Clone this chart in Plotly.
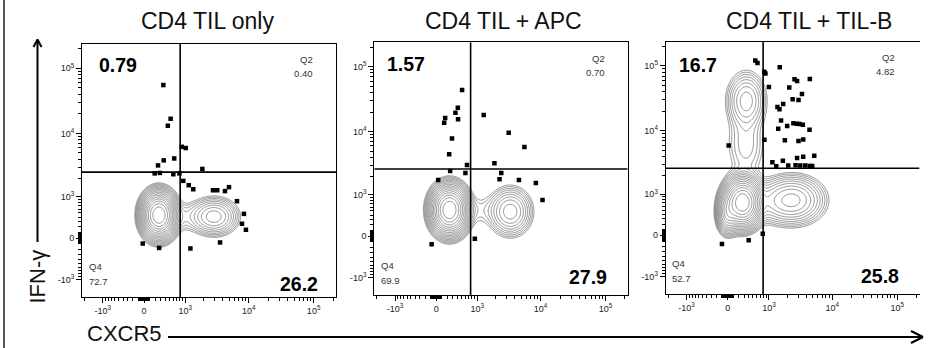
import numpy as np
import plotly.graph_objects as go

W, H = 930, 348
COF = 490.0  # biexponential (arcsinh) cofactor of the display scale


def T(v):
    """Biexponential-like display transform (in decades)."""
    return np.arcsinh(np.asarray(v, dtype=float) / COF) / np.log(10)


# ---------------- data ----------------
titles = ["CD4 TIL only", "CD4 TIL + APC", "CD4 TIL + TIL-B"]
q1_pct = ["0.79", "1.57", "16.7"]   # IFN-γ+ CXCR5-
q2_pct = ["0.40", "0.70", "4.82"]   # IFN-γ+ CXCR5+
q3_pct = ["26.2", "27.9", "25.8"]   # IFN-γ- CXCR5+
q4_pct = ["72.7", "69.9", "52.7"]   # IFN-γ- CXCR5-

gate_x = [813, 760, 791]
gate_y = [2510, 2630, 2630]

tick_vals = [-1000, 0, 1000, 10000, 100000]
tick_text = ["-10<sup>3</sup>", "0", "10<sup>3</sup>", "10<sup>4</sup>", "10<sup>5</sup>"]
minor_vals = ([-2000] + [-v for v in range(100, 1000, 100)] + [-v for v in range(10, 100, 10)]
              + list(range(10, 100, 10)) + list(range(100, 1000, 100))
              + list(range(2000, 10000, 1000)) + list(range(20000, 100000, 10000)) + [200000])

# outlier events (CXCR5, IFN-γ)
ev1_x = [362, 533, 464, 870, 1020, 253, 370, 630, 1905, 190, 290, 605, 790, 925, 1145, 1360,
         2800, 3260, 4300, 4960, 6600, 8450, 7880, 9060, 3610, 1220, 275, -22]
ev1_y = [55340, 16760, 13100, 6200, 5940, 3200, 3830, 4100, 2820, 2400, 2440, 2330, 2400, 1830,
         1560, 1340, 1290, 1290, 1250, 1450, 840, 475, 260, 147, -75, -183, -173, -94]

ev2_x = [518, 415, 363, 420, 159, 141, 290, 234, 650, 1280, 3200, 5620, 1910, 2450, 2300, 4620,
         8450, 10700, 605, 253, 35, 905, -80]
ev2_y = [43700, 23300, 19550, 15460, 16190, 13700, 7780, 4460, 3050, 18000, 9620, 5800, 3230,
         2280, 1810, 1770, 1580, 820, 2280, 2450, 1770, -42, -141]

ev3_x = [560, 620, 830, 870, 1515, 1000, 2600, 2850, 4500, 2150, 3400, 2430, 3000, 1390, 1720,
         1500, 1590, 1430, 1990, 2500, 2810, 3120, 3510, 4450, 835, 1830, 3000, 3550, 1145, 1700,
         2070, 2850, 3550, 5270, 2700, 3200, 3830, 4500, 4900, 1330, 17, -100, 400, 780]
ev3_y = [121400, 111200, 81700, 76600, 95500, 47600, 62400, 58800, 62700, 46700, 37100, 30700,
         30000, 23400, 26000, 21600, 14400, 10800, 11900, 13100, 12800, 12700, 12360, 10340, 7260,
         7150, 6940, 7340, 3260, 3430, 2900, 3800, 3960, 4130, 2920, 2900, 2900, 2850, 2850, 2830,
         5940, -155, -88, 29]

# cell populations: centre (CXCR5, IFN-γ), spread (display decades), relative peak density
pop1_cx = [270, 2900, 965]
pop1_cy = [445, 410, 409]
pop1_sx = [0.12, 0.18, 0.18]
pop1_sy = [0.16, 0.14, 0.14]
pop1_w = [1.0, 0.11, 0.015]

pop2_cx = [240, 3400, 1120]
pop2_cy = [525, 482, 518]
pop2_sx = [0.13, 0.16, 0.2]
pop2_sy = [0.17, 0.18, 0.15]
pop2_w = [1.0, 0.11, 0.011]

pop3_cx = [270, 0, 2370, 348, 338, 965]
pop3_cy = [710, 420, 780, 29250, 6000, 697]
pop3_sx = [0.13, 0.08, 0.24, 0.15, 0.17, 0.18]
pop3_sy = [0.17, 0.15, 0.18, 0.22, 0.30, 0.17]
pop3_w = [1.0, 0.2, 0.14, 0.08, 0.025, 0.02]

events = [(ev1_x, ev1_y), (ev2_x, ev2_y), (ev3_x, ev3_y)]
pops = [(pop1_cx, pop1_cy, pop1_sx, pop1_sy, pop1_w),
        (pop2_cx, pop2_cy, pop2_sx, pop2_sy, pop2_w),
        (pop3_cx, pop3_cy, pop3_sx, pop3_sy, pop3_w)]

# ---------------- layout geometry (pixels) ----------------
boxes = [(82, 336, 44, 297), (374.3, 627.7, 42.3, 295), (665.7, 919.5, 41.7, 294)]
XR = [-0.955, 2.955]
YR = [-0.905, 2.985]
N_LEVELS = 16
STEP = 0.3

FONT = "Liberation Sans, Arial, Helvetica, sans-serif"


def px(x):
    return x / W


def py(y):
    return 1 - y / H


fig = go.Figure()
gx = np.linspace(XR[0], XR[1], 360)
gy = np.linspace(YR[0], YR[1], 360)
GX, GY = np.meshgrid(gx, gy)

for i in range(3):
    sfx = "" if i == 0 else str(i + 1)
    xa, ya = "x" + sfx, "y" + sfx
    cx, cy, sx, sy, w = pops[i]
    dens = np.zeros_like(GX)
    for a, b, s1, s2, ww in zip(T(cx), T(cy), sx, sy, w):
        dens += ww * np.exp(-0.5 * (((GX - a) / s1) ** 2 + ((GY - b) / s2) ** 2))
    z = np.log(dens + 1e-30)
    zmax = z.max()
    fig.add_trace(go.Contour(
        x=gx, y=gy, z=z, xaxis=xa, yaxis=ya,
        contours=dict(coloring="lines", start=zmax - N_LEVELS * STEP, end=zmax - 0.2, size=STEP),
        colorscale=[[0, "#6e6e6e"], [1, "#6e6e6e"]], showscale=False,
        line=dict(width=0.75), hoverinfo="skip"))
    ex, ey = events[i]
    fig.add_trace(go.Scatter(
        x=T(ex), y=T(ey), mode="markers", xaxis=xa, yaxis=ya,
        marker=dict(symbol="square", size=4.5, color="black"), hoverinfo="skip"))
    # quadrant gates
    fig.add_shape(type="line", xref=xa, yref=ya, x0=float(T(gate_x[i])), x1=float(T(gate_x[i])),
                  y0=YR[0], y1=YR[1], line=dict(color="black", width=1.6))
    fig.add_shape(type="line", xref=xa, yref=ya, x0=XR[0], x1=XR[1],
                  y0=float(T(gate_y[i])), y1=float(T(gate_y[i])), line=dict(color="black", width=1.6))

    l, r, t, b = boxes[i]
    common = dict(showgrid=False, zeroline=False, showline=True, linecolor="black", linewidth=1,
                  ticks="outside", ticklen=5, tickwidth=1.2, tickcolor="black",
                  tickmode="array", tickvals=list(T(tick_vals)), ticktext=tick_text,
                  tickfont=dict(family=FONT, size=9, color="#222"),
                  minor=dict(ticks="outside", ticklen=3, tickwidth=1, tickcolor="black",
                             tickmode="array", tickvals=list(T(minor_vals))),
                  fixedrange=True)
    fig.layout["xaxis" + sfx] = dict(common, domain=[px(l), px(r)], range=XR, anchor=ya,
                                     mirror=True)
    fig.layout["yaxis" + sfx] = dict(common, domain=[py(b), py(t)], range=YR, anchor=xa,
                                     mirror=(i < 2))

# ---------------- text ----------------
ann = []


def text(x, y, s, size, xanchor="center", bold=False, color="#111", angle=0, yanchor="middle"):
    ann.append(dict(x=px(x), y=py(y), xref="paper", yref="paper", text=("<b>%s</b>" % s) if bold else s,
                    showarrow=False, xanchor=xanchor, yanchor=yanchor, textangle=angle,
                    font=dict(family=FONT, size=size, color=color)))


title_x = [207.5, 503.5, 809]
q1_pos = [(97, 65), (385, 64), (677, 65)]
q3_pos = [(320, 284), (609.3, 276.7), (901, 276)]
q2_pos = [(314.5, 59.3), (606.5, 58.3), (896.5, 57.3)]
q4_pos = [(87, 266.7), (379, 265), (670, 263.3)]

for i in range(3):
    text(title_x[i], 20.5, titles[i], 23)
    text(q1_pos[i][0], q1_pos[i][1], q1_pct[i], 19.5, "left", bold=True, color="black")
    text(q3_pos[i][0], q3_pos[i][1], q3_pct[i], 19.5, "right", bold=True, color="black")
    text(q2_pos[i][0], q2_pos[i][1], "Q2", 9.5, "right", color="#333")
    text(q2_pos[i][0], q2_pos[i][1] + 14.5, q2_pct[i], 9.5, "right", color="#333")
    text(q4_pos[i][0], q4_pos[i][1], "Q4", 9.5, "left", color="#333")
    text(q4_pos[i][0], q4_pos[i][1] + 15, q4_pct[i], 9.5, "left", color="#333")

text(36.5, 277, "IFN-γ", 22, angle=-90)
text(124.5, 348, "CXCR5", 22, yanchor="bottom")


# ---------------- arrows & frame ----------------
def seg(x0, y0, x1, y1, width=2, color="black"):
    fig.add_shape(type="line", xref="paper", yref="paper", x0=px(x0), y0=py(y0), x1=px(x1), y1=py(y1),
                  line=dict(color=color, width=width))


seg(4, 0, 4, 348, 2, "#555")
# IFN-γ arrow
seg(37.5, 242, 37.5, 39.5)
seg(37.5, 39.5, 33.5, 47)
seg(37.5, 39.5, 41.5, 47)
# CXCR5 arrow
seg(168, 337, 923, 337)
seg(923, 337, 911, 331)
seg(923, 337, 911, 343)

fig.update_layout(width=W, height=H, margin=dict(l=0, r=0, t=0, b=0),
                  paper_bgcolor="white", plot_bgcolor="white", showlegend=False,
                  annotations=ann)

fig.write_html("out.html", config={"displayModeBar": False},
               post_script="document.body.style.margin='0px';document.body.style.overflow='hidden';")
